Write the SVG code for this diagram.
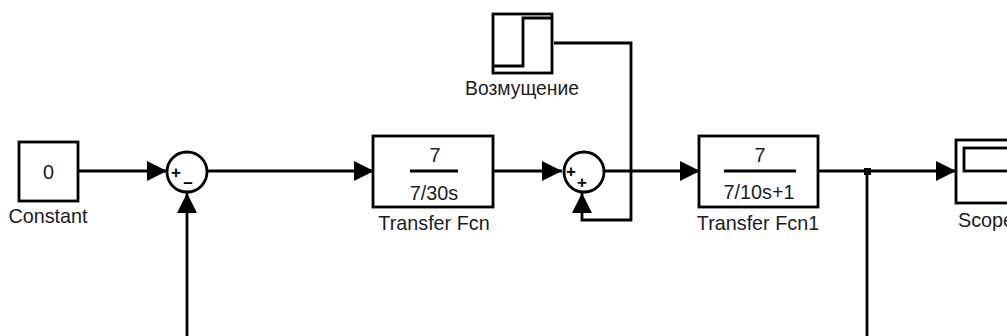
<svg xmlns="http://www.w3.org/2000/svg" width="1007" height="336" viewBox="0 0 1007 336">
<style>
.b{fill:#fff;stroke:#000;stroke-width:2.8}
.c{fill:none;stroke:#000;stroke-width:2.8}
.t{font-family:"Liberation Sans",Arial,sans-serif;font-size:19.8px;fill:#1c1c1c;text-anchor:middle}
.s{font-family:"Liberation Sans",Arial,sans-serif;font-size:17px;fill:#000;font-weight:bold;text-anchor:middle}
</style>
<defs>
<marker id="a" markerUnits="userSpaceOnUse" markerWidth="22" markerHeight="22" refX="20" refY="11" orient="auto"><path d="M0 1L20 11L0 21Z" fill="#000"/></marker>
</defs>
<rect width="1007" height="336" fill="#fff"/>
<g id="connectors">
<path class="c" d="M79 171H167" marker-end="url(#a)"/>
<path class="c" d="M187 336V193" marker-end="url(#a)"/>
<path class="c" d="M208 171H374" marker-end="url(#a)"/>
<path class="c" d="M494 171H562" marker-end="url(#a)"/>
<path class="c" d="M605 171H700" marker-end="url(#a)"/>
<path class="c" d="M554 43H631V220H582V193" marker-end="url(#a)"/>
<path class="c" d="M819 171H956" marker-end="url(#a)"/>
<path class="c" d="M867 171V336"/>
<rect x="864" y="168" width="7" height="7" fill="#000"/>
</g>
<g id="constant"><rect class="b" x="19" y="142" width="59" height="59"/><text class="t" x="48.500" y="179">0</text><text class="t" x="48" y="223">Constant</text></g>
<g id="sum1"><circle class="b" cx="187" cy="172" r="20"/><text class="s" x="176" y="178">+</text><text class="s" x="188" y="188">–</text></g>
<g id="tf"><rect class="b" x="373" y="136" width="120" height="71"/><path class="c" d="M410 171H458"/><text class="t" x="435" y="162">7</text><text class="t" x="434" y="200">7/30s</text><text class="t" x="434" y="230">Transfer Fcn</text></g>
<g id="sum2"><circle class="b" cx="584" cy="172" r="20"/><text class="s" x="571" y="177">+</text><text class="s" x="582" y="188">+</text></g>
<g id="step"><rect class="b" x="493" y="14" width="59" height="59"/><path class="c" d="M493 66H523V18H552"/><text class="t" x="522" y="95" textLength="114" lengthAdjust="spacingAndGlyphs">Возмущение</text></g>
<g id="tf1"><rect class="b" x="699" y="136" width="119" height="71"/><path class="c" d="M724 171H796"/><text class="t" x="760" y="162">7</text><text class="t" x="759" y="199">7/10s+1</text><text class="t" x="758" y="230">Transfer Fcn1</text></g>
<g id="scope"><rect class="b" x="956" y="140" width="70" height="63"/><rect class="b" x="964" y="148" width="60" height="23"/><text class="t" x="986" y="227">Scope</text></g>
</svg>
